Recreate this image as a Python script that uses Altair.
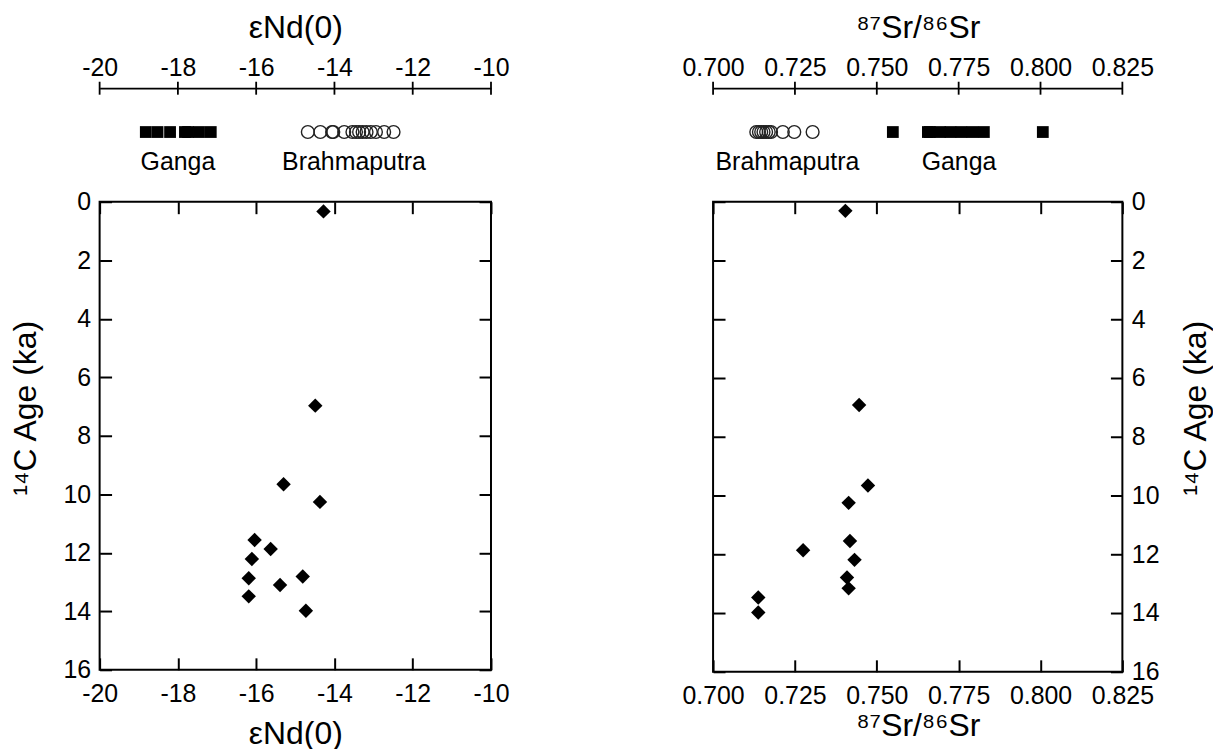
import altair as alt
import pandas as pd

FONT = "Liberation Sans"
LABEL_SIZE = 25
TITLE_SIZE = 32

# ---- core data ----
nd_values = [-14.28, -14.49, -15.30, -14.37, -16.04, -15.63, -16.11, -16.19, -14.81, -15.39, -16.19, -14.73]
nd_ages = [0.33, 6.97, 9.66, 10.26, 11.56, 11.87, 12.21, 12.87, 12.81, 13.10, 13.49, 13.98]

sr_values = [0.7404, 0.7446, 0.7473, 0.7414, 0.7418, 0.7275, 0.7432, 0.7409, 0.7414, 0.7138, 0.7138]
sr_ages = [0.31, 6.92, 9.66, 10.25, 11.55, 11.86, 12.19, 12.79, 13.16, 13.47, 13.98]

# ---- river end-member strips ----
ganga_nd = [-18.82, -18.52, -18.20, -17.82, -17.74, -17.46, -17.16]
brahma_nd = [-14.68, -14.36, -14.06, -14.03, -13.75, -13.54, -13.45, -13.37,
             -13.28, -13.18, -13.07, -12.94, -12.73, -12.49]
ganga_sr = [0.7549, 0.7656, 0.7662, 0.7693, 0.7725, 0.7758, 0.7792, 0.7827, 0.8007]
brahma_sr = [0.7132, 0.7140, 0.7147, 0.7154, 0.7162, 0.7170, 0.7177, 0.7213, 0.7248, 0.7304]

nd_names = ["Ganga", "Brahmaputra"]
nd_name_pos = [-18.0, -13.5]
sr_names = ["Brahmaputra", "Ganga"]
sr_name_pos = [0.7227, 0.7751]

# ---- ticks / labels ----
nd_ticks = [-20, -18, -16, -14, -12, -10]
sr_ticks = [0.700, 0.725, 0.750, 0.775, 0.800, 0.825]
age_ticks = [0, 2, 4, 6, 8, 10, 12, 14, 16]

ND_TITLE = "εNd(0)"
SR_TITLE = "⁸⁷Sr/⁸⁶Sr"
AGE_TITLE = "¹⁴C Age (ka)"
ND_EXPR = "'' + datum.value"
SR_EXPR = "format(datum.value, '.3f')"


def strip(ganga, brahma, names, name_pos, ticks, domain, width, title, label_expr):
    xscale = alt.Scale(domain=domain, nice=False, zero=False)
    xenc = alt.X(
        "v:Q", scale=xscale,
        axis=alt.Axis(
            orient="top", values=ticks, ticks=False, tickSize=0, domain=True,
            domainColor="black", domainWidth=1.8, grid=False,
            labelFont=FONT, labelFontSize=LABEL_SIZE, labelColor="black",
            labelPadding=8, labelExpr=label_expr, labelFlush=False, labelOverlap=False,
            title=title, titleFont=FONT, titleFontSize=TITLE_SIZE,
            titleFontWeight="normal", titleColor="black", titlePadding=11,
        ),
    )
    yenc = alt.Y("lane:N", axis=None)

    gdf = pd.DataFrame({"v": ganga, "lane": ["s"] * len(ganga)})
    bdf = pd.DataFrame({"v": brahma, "lane": ["s"] * len(brahma)})
    ndf = pd.DataFrame({"v": name_pos, "name": names, "lane": ["s"] * len(names)})
    tdf = pd.DataFrame({"v": ticks})

    squares = alt.Chart(gdf).mark_point(
        shape="square", filled=True, color="black", size=140, opacity=1
    ).encode(x=xenc, y=yenc)
    circles = alt.Chart(bdf).mark_point(
        shape="circle", filled=False, stroke="#222222", strokeWidth=1.4, size=165, opacity=1
    ).encode(x=xenc, y=yenc)
    cross = alt.Chart(tdf).mark_rule(color="black", strokeWidth=1.8).encode(
        x=xenc, y=alt.value(-6.5), y2=alt.value(6.5)
    )
    text = alt.Chart(ndf).mark_text(
        dy=30, font=FONT, fontSize=LABEL_SIZE, color="black", baseline="middle"
    ).encode(x=xenc, y=yenc, text="name:N")
    return alt.layer(cross, squares, circles, text).properties(
        width=width, height=88,
        view=alt.ViewBackground(stroke="transparent", strokeWidth=0),
    )


def ax(**kw):
    base = dict(
        labelFont=FONT, labelFontSize=LABEL_SIZE, labelColor="black",
        titleFont=FONT, titleFontSize=TITLE_SIZE, titleFontWeight="normal", titleColor="black",
        tickColor="black", tickWidth=2, tickSize=12, offset=-12, domain=False, grid=False,
        labelFlush=False, labelOverlap=False,
    )
    base.update(kw)
    return alt.Axis(**base)


def main(xvals, ages, xticks, domain, width, height, xtitle, label_expr, y_side, x_title_pad):
    other_side = "left" if y_side == "right" else "right"
    df = pd.DataFrame({"v": xvals, "age": ages})
    xscale = alt.Scale(domain=domain, nice=False, zero=False)
    yscale = alt.Scale(domain=[0, 16], reverse=True, nice=False, zero=False)

    if y_side == "left":
        y_title_kw = dict(titlePadding=21)
    else:
        y_title_kw = dict(titlePadding=22, titleBaseline="top")

    x_bottom = alt.X("v:Q", scale=xscale, axis=ax(
        orient="bottom", values=xticks, labelPadding=12, labelExpr=label_expr,
        title=xtitle, titlePadding=x_title_pad))
    x_top = alt.X("v:Q", scale=xscale, axis=ax(
        orient="top", values=xticks, labels=False, title=""))
    y_main = alt.Y("age:Q", scale=yscale, axis=ax(
        orient=y_side, values=age_ticks, labelPadding=9, format="d",
        title=AGE_TITLE, titleAngle=270, titleY=207, **y_title_kw))
    y_other = alt.Y("age:Q", scale=yscale, axis=ax(
        orient=other_side, values=age_ticks, labels=False, title=""))

    pts = alt.Chart(df).mark_point(
        shape="diamond", filled=True, color="black", size=210, opacity=1
    ).encode(x=x_bottom, y=y_main)
    ghost = alt.Chart(df).mark_point(opacity=0).encode(x=x_top, y=y_other)
    return alt.layer(pts, ghost).resolve_axis(x="independent", y="independent").properties(
        width=width, height=height,
    )


strip_l = strip(ganga_nd, brahma_nd, nd_names, nd_name_pos, nd_ticks, [-20, -10], 393, ND_TITLE, ND_EXPR)
strip_r = strip(ganga_sr, brahma_sr, sr_names, sr_name_pos, sr_ticks, [0.700, 0.825], 411, SR_TITLE, SR_EXPR)
main_l = main(nd_values, nd_ages, nd_ticks, [-20, -10], 393, 470, ND_TITLE, ND_EXPR, "left", 12)
main_r = main(sr_values, sr_ages, sr_ticks, [0.700, 0.825], 411, 472, SR_TITLE, SR_EXPR, "right", 2)

chart = alt.concat(
    strip_l, strip_r, main_l, main_r,
    columns=2, spacing={"row": 26, "column": 223}, bounds="flush", align="each",
).configure_view(stroke="black", strokeWidth=2).properties(
    padding={"left": 0, "top": 2, "right": 0, "bottom": 0}
)

chart.save("out.html", embed_options={"renderer": "svg", "actions": False})
